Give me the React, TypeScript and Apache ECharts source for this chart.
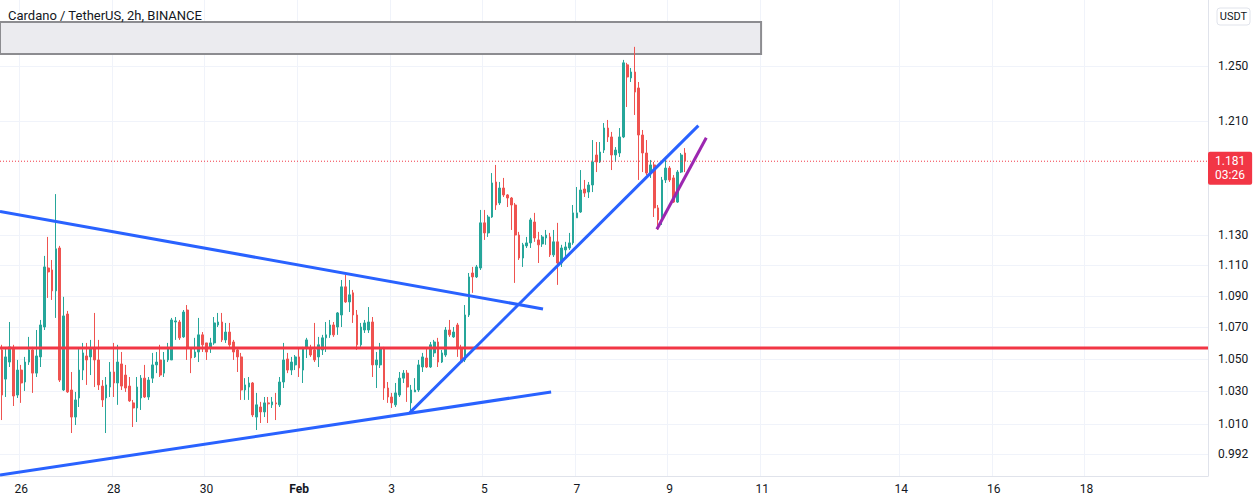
import React, { useEffect, useRef } from "react";
import * as echarts from "echarts";

const TITLE = "Cardano / TetherUS, 2h, BINANCE";
const QUOTE = "USDT";
const START_UTC = Date.UTC(2022, 0, 25, 14); // first 2h candle on screen
const SLOT_COUNT = 313; // candle slots across the plot (incl. empty future)
const DATE_LABELS: Record<string, string> = {
  "01-26": "26", "01-28": "28", "01-30": "30", "02-01": "Feb", "02-03": "3",
  "02-05": "5", "02-07": "7", "02-09": "9", "02-11": "11", "02-14": "14",
  "02-16": "16", "02-18": "18",
};
const PRICE_TICKS = [0.992, 1.01, 1.03, 1.05, 1.07, 1.09, 1.11, 1.13, 1.21, 1.25];
const PRICE_MIN = 0.9790;
const PRICE_MAX = 1.3001;

const OPEN = [
  1.0554, 1.0372, 1.0478, 1.0567, 1.0274, 1.0428, 1.0354, 1.0478, 1.0554, 1.0409,
  1.0510, 1.0699, 1.1082, 1.1069, 1.0932, 1.1215, 1.0305, 1.0782, 1.0305, 1.0140,
  1.0256, 1.0428, 1.0516, 1.0510, 1.0567, 1.0491, 1.0329, 1.0256, 1.0323, 1.0416,
  1.0348, 1.0466, 1.0397, 1.0329, 1.0226, 1.0195, 1.0256, 1.0378, 1.0262, 1.0378,
  1.0460, 1.0491, 1.0409, 1.0491, 1.0491, 1.0731, 1.0731, 1.0636, 1.0808, 1.0567,
  1.0510, 1.0541, 1.0649, 1.0598, 1.0567, 1.0598, 1.0712, 1.0731, 1.0617, 1.0667,
  1.0604, 1.0554, 1.0510, 1.0305, 1.0323, 1.0348, 1.0140, 1.0201, 1.0171, 1.0226,
  1.0214, 1.0226, 1.0214, 1.0354, 1.0497, 1.0428, 1.0460, 1.0510, 1.0428, 1.0567,
  1.0560, 1.0554, 1.0510, 1.0554, 1.0630, 1.0649, 1.0712, 1.0699, 1.0776, 1.0958,
  1.0860, 1.0919, 1.0776, 1.0586, 1.0680, 1.0680, 1.0731, 1.0460, 1.0460, 1.0567,
  1.0317, 1.0262, 1.0214, 1.0274, 1.0378, 1.0409, 1.0226, 1.0293, 1.0305, 1.0447,
  1.0503, 1.0447, 1.0535, 1.0604, 1.0478, 1.0522, 1.0680, 1.0636, 1.0712, 1.0567,
  1.0491, 1.0776, 1.1049, 1.1023, 1.1082, 1.1384, 1.1316, 1.1424, 1.1665, 1.1520,
  1.1623, 1.1575, 1.1554, 1.1506, 1.1302, 1.1148, 1.1229, 1.1249, 1.1390, 1.1269,
  1.1242, 1.1282, 1.1289, 1.1169, 1.1256, 1.1115, 1.1202, 1.1215, 1.1249, 1.1418,
  1.1458, 1.1616, 1.1595, 1.1644, 1.1854, 1.1805, 1.1889, 1.2046, 1.1982, 1.1854,
  1.1868, 1.1982, 1.2508, 1.2411, 1.2455, 1.2337, 1.1996, 1.1868, 1.1727, 1.1784,
  1.1486, 1.1404, 1.1679, 1.1762, 1.1693, 1.1526, 1.1734, 1.1868,
];
const CLOSE = [
  1.0274, 1.0510, 1.0573, 1.0268, 1.0428, 1.0348, 1.0478, 1.0554, 1.0409, 1.0516,
  1.0712, 1.1089, 1.1056, 1.0932, 1.1209, 1.0366, 1.0770, 1.0293, 1.0140, 1.0244,
  1.0428, 1.0535, 1.0491, 1.0567, 1.0491, 1.0336, 1.0244, 1.0336, 1.0416, 1.0348,
  1.0478, 1.0329, 1.0317, 1.0238, 1.0195, 1.0323, 1.0378, 1.0262, 1.0366, 1.0460,
  1.0478, 1.0397, 1.0491, 1.0567, 1.0744, 1.0738, 1.0630, 1.0795, 1.0567, 1.0503,
  1.0541, 1.0649, 1.0586, 1.0541, 1.0598, 1.0725, 1.0731, 1.0617, 1.0667, 1.0586,
  1.0541, 1.0510, 1.0305, 1.0336, 1.0348, 1.0153, 1.0214, 1.0171, 1.0226, 1.0220,
  1.0232, 1.0220, 1.0354, 1.0491, 1.0428, 1.0478, 1.0510, 1.0441, 1.0567, 1.0617,
  1.0522, 1.0491, 1.0586, 1.0630, 1.0649, 1.0712, 1.0649, 1.0789, 1.0958, 1.0860,
  1.0906, 1.0776, 1.0586, 1.0699, 1.0725, 1.0731, 1.0460, 1.0491, 1.0567, 1.0317,
  1.0262, 1.0226, 1.0287, 1.0378, 1.0409, 1.0323, 1.0305, 1.0305, 1.0460, 1.0510,
  1.0447, 1.0586, 1.0604, 1.0478, 1.0535, 1.0680, 1.0649, 1.0667, 1.0567, 1.0478,
  1.0776, 1.1023, 1.1023, 1.1089, 1.1384, 1.1316, 1.1424, 1.1658, 1.1506, 1.1623,
  1.1575, 1.1554, 1.1506, 1.1302, 1.1148, 1.1236, 1.1249, 1.1404, 1.1282, 1.1236,
  1.1289, 1.1302, 1.1169, 1.1256, 1.1115, 1.1215, 1.1222, 1.1249, 1.1452, 1.1452,
  1.1609, 1.1588, 1.1644, 1.1805, 1.1805, 1.1875, 1.2046, 1.1982, 1.1854, 1.1889,
  1.1982, 1.2523, 1.2418, 1.2455, 1.2307, 1.1996, 1.1868, 1.1727, 1.1784, 1.1486,
  1.1404, 1.1679, 1.1762, 1.1679, 1.1526, 1.1734, 1.1854, 1.1810,
];
const LOW = [
  1.0122, 1.0262, 1.0447, 1.0207, 1.0256, 1.0226, 1.0299, 1.0460, 1.0287, 1.0385,
  1.0447, 1.0680, 1.0886, 1.0873, 1.0757, 1.0354, 1.0299, 1.0287, 1.0044, 1.0092,
  1.0201, 1.0366, 1.0336, 1.0397, 1.0323, 1.0305, 1.0201, 1.0044, 1.0262, 1.0262,
  1.0214, 1.0305, 1.0293, 1.0232, 1.0080, 1.0110, 1.0183, 1.0256, 1.0244, 1.0348,
  1.0409, 1.0385, 1.0385, 1.0478, 1.0491, 1.0617, 1.0617, 1.0630, 1.0491, 1.0409,
  1.0503, 1.0478, 1.0541, 1.0491, 1.0535, 1.0586, 1.0699, 1.0604, 1.0598, 1.0573,
  1.0491, 1.0416, 1.0244, 1.0244, 1.0244, 1.0140, 1.0062, 1.0104, 1.0140, 1.0104,
  1.0195, 1.0122, 1.0201, 1.0317, 1.0409, 1.0397, 1.0428, 1.0385, 1.0348, 1.0503,
  1.0510, 1.0478, 1.0447, 1.0522, 1.0541, 1.0630, 1.0636, 1.0649, 1.0699, 1.0854,
  1.0795, 1.0725, 1.0554, 1.0573, 1.0661, 1.0661, 1.0385, 1.0317, 1.0441, 1.0244,
  1.0226, 1.0195, 1.0201, 1.0262, 1.0348, 1.0232, 1.0165, 1.0293, 1.0293, 1.0416,
  1.0441, 1.0441, 1.0510, 1.0447, 1.0472, 1.0510, 1.0636, 1.0630, 1.0510, 1.0472,
  1.0478, 1.0763, 1.0919, 1.1016, 1.1069, 1.1269, 1.1289, 1.1418, 1.1472, 1.1506,
  1.1561, 1.1492, 1.1336, 1.0984, 1.1135, 1.1089, 1.1215, 1.1215, 1.1256, 1.1115,
  1.1222, 1.1236, 1.1155, 1.1155, 1.0971, 1.1089, 1.1155, 1.1202, 1.1236, 1.1418,
  1.1452, 1.1561, 1.1554, 1.1595, 1.1734, 1.1798, 1.1868, 1.1946, 1.1748, 1.1805,
  1.1840, 1.1974, 1.2198, 1.2381, 1.2140, 1.1679, 1.1734, 1.1713, 1.1693, 1.1424,
  1.1336, 1.1370, 1.1658, 1.1665, 1.1520, 1.1520, 1.1727, 1.1734,
];
const HIGH = [
  1.0586, 1.0567, 1.0731, 1.0586, 1.0491, 1.0460, 1.0510, 1.0636, 1.0573, 1.0680,
  1.0744, 1.1162, 1.1289, 1.1135, 1.1581, 1.1229, 1.0893, 1.0802, 1.0416, 1.0293,
  1.0567, 1.0598, 1.0598, 1.0617, 1.0789, 1.0617, 1.0366, 1.0385, 1.0478, 1.0598,
  1.0586, 1.0541, 1.0460, 1.0385, 1.0244, 1.0385, 1.0397, 1.0460, 1.0385, 1.0535,
  1.0541, 1.0586, 1.0541, 1.0598, 1.0757, 1.0763, 1.0744, 1.0808, 1.0840, 1.0567,
  1.0630, 1.0757, 1.0667, 1.0598, 1.0630, 1.0763, 1.0789, 1.0789, 1.0725, 1.0725,
  1.0617, 1.0567, 1.0535, 1.0378, 1.0385, 1.0354, 1.0287, 1.0232, 1.0262, 1.0262,
  1.0262, 1.0287, 1.0385, 1.0598, 1.0535, 1.0510, 1.0522, 1.0567, 1.0573, 1.0630,
  1.0586, 1.0725, 1.0636, 1.0649, 1.0731, 1.0744, 1.0731, 1.0795, 1.1003, 1.1036,
  1.1003, 1.0938, 1.0808, 1.0725, 1.0744, 1.0827, 1.0763, 1.0541, 1.0598, 1.0573,
  1.0354, 1.0287, 1.0348, 1.0416, 1.0428, 1.0428, 1.0336, 1.0378, 1.0491, 1.0535,
  1.0567, 1.0604, 1.0617, 1.0630, 1.0554, 1.0699, 1.0744, 1.0699, 1.0725, 1.0586,
  1.0840, 1.1049, 1.1089, 1.1102, 1.1472, 1.1472, 1.1438, 1.1727, 1.1784, 1.1665,
  1.1693, 1.1581, 1.1561, 1.1520, 1.1323, 1.1249, 1.1289, 1.1418, 1.1452, 1.1323,
  1.1302, 1.1336, 1.1316, 1.1336, 1.1384, 1.1236, 1.1256, 1.1316, 1.1506, 1.1630,
  1.1748, 1.1679, 1.1665, 1.1960, 1.1946, 1.1946, 1.2082, 1.2104, 1.2018, 1.1910,
  1.2046, 1.2545, 1.2523, 1.2485, 1.2643, 1.2381, 1.2032, 1.1960, 1.1819, 1.1805,
  1.1506, 1.1700, 1.1833, 1.1776, 1.1713, 1.1748, 1.1868, 1.1903,
];

// Drawings: [candle index, price]
const TREND_UPPER = [[-0.5, 1.1462], [140.2, 1.0815]];
const TREND_LOWER = [[-0.5, 0.9796], [142.3, 1.0293]];
const TREND_RISING = [[105.7, 1.0167], [180.45, 1.2063]];
const WEDGE_LINE = [[169.7, 1.1341], [182.5, 1.1977]];
const SUPPORT_LEVEL = 1.0566;
const RESISTANCE_ZONE = [-0.5, 1.2832, 196.7, 1.2589];
const LAST_PRICE = 1.181;
const COUNTDOWN = "03:26";

const FONT = "Roboto, 'Noto Sans', sans-serif";
const TEXT = "#131722";
const GRID = "#f0f3fa";
const UP = "#26a69a";
const DOWN = "#ef5350";
const RED = "#f23645";
const ln = Math.log;

function buildOption() {
  const categories: string[] = [];
  for (let i = 0; i < SLOT_COUNT; i++) {
    const d = new Date(START_UTC + i * 2 * 3600 * 1000);
    const mm = String(d.getUTCMonth() + 1).padStart(2, "0");
    const dd = String(d.getUTCDate()).padStart(2, "0");
    const hh = String(d.getUTCHours()).padStart(2, "0");
    categories.push(`${mm}-${dd} ${hh}`);
  }
  const isLabelSlot = (_i: number, v: string) =>
    v.endsWith(" 00") && DATE_LABELS[v.slice(0, 5)] !== undefined;

  const candles = OPEN.map((o, i) => [ln(o), ln(CLOSE[i]), ln(LOW[i]), ln(HIGH[i])]);
  const toLn = (pts: number[][]) => pts.map(([x, p]) => [x, ln(p)]);
  const lineSeries = (name: string, pts: number[][], color: string) => ({
    name,
    type: "line",
    xAxisIndex: 1,
    yAxisIndex: 0,
    data: toLn(pts),
    symbol: "none",
    silent: true,
    z: 5,
    lineStyle: { color, width: 3 },
  });

  return {
    animation: false,
    backgroundColor: "#ffffff",
    title: {
      text: TITLE,
      left: 8,
      top: 9,
      padding: 0,
      textStyle: { fontFamily: FONT, fontSize: 13, fontWeight: "normal", color: TEXT },
    },
    grid: { left: 0, right: 52, top: 0, bottom: 27 },
    xAxis: [
      {
        type: "category",
        data: categories,
        boundaryGap: true,
        axisLine: { show: true, onZero: false, lineStyle: { color: "#e0e3eb" } },
        axisTick: { show: false },
        splitLine: { show: true, interval: isLabelSlot, lineStyle: { color: GRID } },
        axisLabel: {
          interval: isLabelSlot,
          margin: 7,
          fontFamily: FONT,
          fontSize: 12,
          color: TEXT,
          formatter: (v: string) => {
            const t = DATE_LABELS[v.slice(0, 5)];
            return t === "Feb" ? `{m|${t}}` : t;
          },
          rich: { m: { fontFamily: FONT, fontSize: 12, fontWeight: "bold", color: TEXT } },
        },
      },
      {
        type: "value",
        show: false,
        min: -0.5,
        max: SLOT_COUNT - 0.5,
        axisLine: { onZero: false },
        splitLine: { show: false },
      },
    ],
    yAxis: {
      type: "value",
      position: "right",
      min: ln(PRICE_MIN),
      max: ln(PRICE_MAX),
      axisLine: { show: true, onZero: false, lineStyle: { color: "#e0e3eb" } },
      axisTick: { show: false, customValues: PRICE_TICKS.map(ln) },
      splitLine: { show: false },
      axisLabel: {
        customValues: PRICE_TICKS.map(ln),
        margin: 10,
        fontFamily: FONT,
        fontSize: 12,
        color: TEXT,
        formatter: (v: number) => Math.exp(v).toFixed(3),
      },
    },
    graphic: [
      {
        type: "rect",
        shape: { x: 1217, y: 8, width: 33, height: 17, r: 3 },
        style: { fill: "#ffffff", stroke: "#e0e3eb", lineWidth: 1 },
      },
      {
        type: "text",
        x: 1233.5,
        y: 16.5,
        style: { text: QUOTE, fontFamily: FONT, fontSize: 11, fill: TEXT, align: "center", verticalAlign: "middle" },
      },
    ],
    series: [
      {
        name: "priceGrid",
        type: "custom",
        xAxisIndex: 1,
        yAxisIndex: 0,
        silent: true,
        z: 0,
        data: PRICE_TICKS.map((p) => [0, ln(p)]),
        encode: { x: 0, y: 1 },
        renderItem: (params: any, api: any) => {
          const y = Math.round(api.coord([0, api.value(1)])[1]) + 0.5;
          const cs = params.coordSys;
          return {
            type: "line",
            shape: { x1: cs.x, y1: y, x2: cs.x + cs.width, y2: y },
            style: { stroke: GRID, lineWidth: 1 },
          };
        },
      },
      {
        name: "zone",
        type: "custom",
        xAxisIndex: 1,
        yAxisIndex: 0,
        silent: true,
        z: 1,
        clip: true,
        data: [[RESISTANCE_ZONE[0], ln(RESISTANCE_ZONE[1]), RESISTANCE_ZONE[2], ln(RESISTANCE_ZONE[3])]],
        encode: { x: [0, 2], y: [1, 3] },
        renderItem: (_p: any, api: any) => {
          const a = api.coord([api.value(0), api.value(1)]);
          const b = api.coord([api.value(2), api.value(3)]);
          return {
            type: "rect",
            shape: { x: a[0], y: a[1], width: b[0] - a[0], height: b[1] - a[1] },
            style: { fill: "#ebebef", stroke: "#8c8c90", lineWidth: 2 },
          };
        },
      },
      {
        name: "ADAUSDT",
        type: "candlestick",
        xAxisIndex: 0,
        yAxisIndex: 0,
        data: candles,
        barWidth: 2.2,
        z: 3,
        itemStyle: {
          color: UP,
          color0: DOWN,
          borderColor: UP,
          borderColor0: DOWN,
          borderWidth: 1,
        },
      },
      {
        name: "lastPrice",
        type: "line",
        xAxisIndex: 1,
        yAxisIndex: 0,
        data: [[-0.5, ln(LAST_PRICE)], [SLOT_COUNT - 0.5, ln(LAST_PRICE)]],
        symbol: "none",
        silent: true,
        z: 4,
        lineStyle: { color: RED, type: [1, 2], width: 1 },
        endLabel: {
          show: true,
          distance: 0,
          offset: [0, 7],
          formatter: `${LAST_PRICE.toFixed(3)}\n${COUNTDOWN}`,
          backgroundColor: RED,
          color: "#ffffff",
          fontFamily: FONT,
          fontSize: 12,
          lineHeight: 13.5,
          padding: [3, 7, 3, 7],
          borderRadius: 2,
          align: "left",
        },
      },
      lineSeries("support", [[-0.5, SUPPORT_LEVEL], [SLOT_COUNT - 0.5, SUPPORT_LEVEL]], RED),
      lineSeries("upper", TREND_UPPER, "#2962ff"),
      lineSeries("lower", TREND_LOWER, "#2962ff"),
      lineSeries("rising", TREND_RISING, "#2962ff"),
      lineSeries("wedge", WEDGE_LINE, "#9c27b0"),
    ],
  };
}

export default function App() {
  const ref = useRef<HTMLDivElement>(null);
  useEffect(() => {
    if (!ref.current) return;
    const chart = echarts.init(ref.current, null, { renderer: "svg" });
    chart.setOption(buildOption() as any);
    return () => chart.dispose();
  }, []);
  return (
    <div
      ref={ref}
      style={{ position: "absolute", left: 0, top: 0, width: 1260, height: 503, background: "#fff" }}
    />
  );
}
